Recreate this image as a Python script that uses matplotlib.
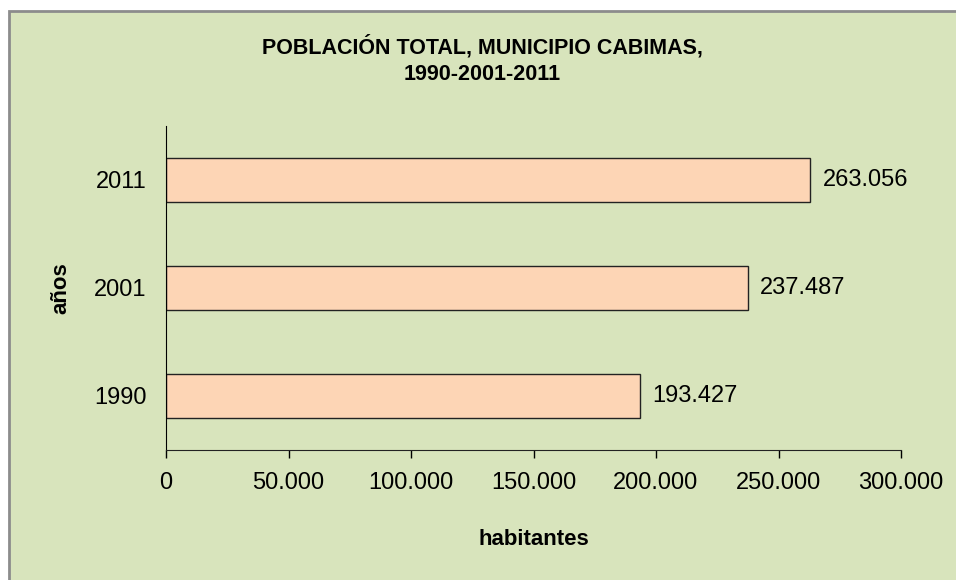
import matplotlib
matplotlib.use("Agg")
import matplotlib.pyplot as plt
from matplotlib.patches import Rectangle
from matplotlib.ticker import FuncFormatter

# Datos: población total, municipio Cabimas
anios = ["1990", "2001", "2011"]
poblacion = [193427, 237487, 263056]
ticks_x = [0, 50000, 100000, 150000, 200000, 250000, 300000]

fondo = "#d8e4bc"
color_barra = "#fdd5b5"

plt.rcParams["font.family"] = ["Liberation Sans Narrow", "Liberation Sans", "DejaVu Sans"]


def miles(v, pos=None):
    # separador de miles con punto
    return f"{int(v):,}".replace(",", ".")


fig = plt.figure(figsize=(9.56, 5.8), dpi=100)
fig.patch.set_facecolor("white")

# marco del gráfico (solo se ven borde izquierdo y superior)
marco = Rectangle((9 / 956, -0.1), 1.2, 1.1 - 11 / 580, transform=fig.transFigure,
                  facecolor=fondo, edgecolor="#8c8c8c", linewidth=2, zorder=-10)
fig.patches.append(marco)

ax = fig.add_axes([166 / 956, 1 - 450 / 580, (901 - 166) / 956, (450 - 126) / 580])
ax.set_facecolor(fondo)

pos = list(range(len(anios)))
ax.barh(pos, poblacion, height=0.41, color=color_barra,
        edgecolor="#222222", linewidth=1.0)

for p, v in zip(pos, poblacion):
    ax.annotate(miles(v), xy=(v, p), xytext=(9, 0), textcoords="offset points",
                va="center", ha="left", fontsize=17)

ax.set_xlim(0, 300000)
ax.set_ylim(-0.5, 2.5)
ax.set_xticks(ticks_x)
ax.xaxis.set_major_formatter(FuncFormatter(miles))
ax.set_yticks(pos)
ax.set_yticklabels(anios)

ax.spines["top"].set_visible(False)
ax.spines["right"].set_visible(False)
ax.spines["left"].set_color("black")
ax.spines["bottom"].set_color("#222222")
ax.tick_params(axis="x", length=6, width=1, pad=10, labelsize=17, direction="out")
ax.tick_params(axis="y", length=0, pad=14, labelsize=17)

ax.set_xlabel("habitantes", fontsize=16, fontweight="bold", labelpad=25)
ax.set_ylabel("años", fontsize=16, fontweight="bold", labelpad=16)

fig.text(482 / 956, 1 - 60 / 580, "POBLACIÓN TOTAL, MUNICIPIO CABIMAS,\n1990-2001-2011",
         ha="center", va="center", fontsize=15.5, fontweight="bold", linespacing=1.4)

fig.savefig("out.png", dpi=100, facecolor=fig.get_facecolor())
